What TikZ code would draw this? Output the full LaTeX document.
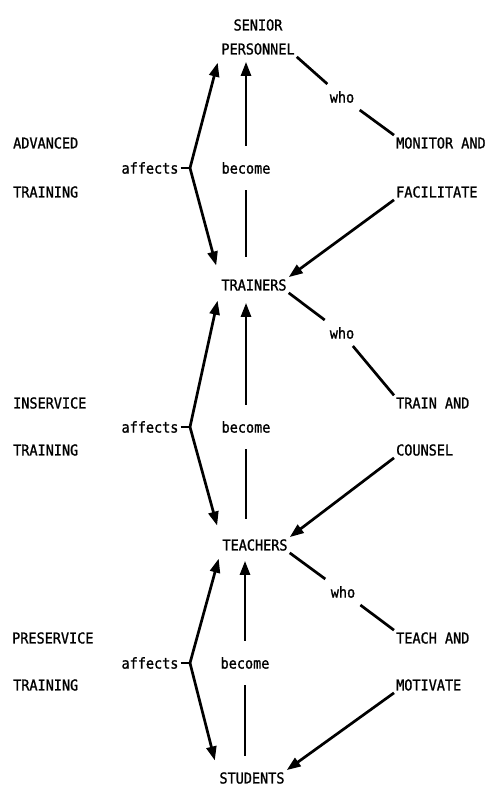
\documentclass[tikz,border=0pt]{standalone}
\usepackage{fontspec}
\newfontfamily\plotfont[FakeStretch=0.9,FakeBold=1.2]{DejaVu Sans Mono}
\usetikzlibrary{arrows.meta}
\begin{document}
\begin{tikzpicture}[x=1pt,y=-1pt,>={Triangle[length=14pt,width=10pt]},
  every node/.style={font={\plotfont\fontsize{15}{24}\selectfont},inner sep=2pt},
  lbl/.style={anchor=west},
  who/.style={inner sep=7pt},
  bec/.style={minimum height=44pt},
  ln/.style={line width=2.7pt}]
  \useasboundingbox (0,0) rectangle (486,786);
  % the four groups of people
  \node[align=center] (sp) at (258,37) {SENIOR\\PERSONNEL};
  \node (tr) at (254,285) {TRAINERS};
  \node (te) at (255,545) {TEACHERS};
  \node (st) at (252,778) {STUDENTS};
  % advanced training
  \node[lbl] (adv) at (11,143) {ADVANCED}; \node[lbl] (advt) at (11,192) {TRAINING};
  \node (af1) at (150,168) {affects}; \coordinate (br1) at (190,168);
  \node[bec] (bc1) at (246,168) {become};
  \node[who] (w1) at (342,97) {who};
  \node[lbl] (mon) at (394,143) {MONITOR AND}; \node[lbl] (fac) at (394,192) {FACILITATE};
  \draw[ln] (af1) -- (br1);
  \draw[ln,->,shorten >=6pt] (br1) -- (sp.south west);
  \draw[ln,->,shorten >=12pt] (br1) -- (tr.north west);
  \draw[ln,->,shorten >=5pt] (bc1) -- (bc1 |- sp.south);
  \draw[ln,shorten >=20pt] (bc1) -- (bc1 |- tr.north);
  \draw[ln] (sp.south east) -- (w1) -- (mon.north west);
  \draw[ln,->] (fac.south west) -- (tr.north east);
  % inservice training
  \node[lbl] (ins) at (11,403) {INSERVICE}; \node[lbl] (inst) at (11,450) {TRAINING};
  \node (af2) at (150,427) {affects}; \coordinate (br2) at (190,427);
  \node[bec] (bc2) at (246,427) {become};
  \node[who] (w2) at (342,333) {who};
  \node[lbl] (tra) at (394,403) {TRAIN AND}; \node[lbl] (cou) at (394,450) {COUNSEL};
  \draw[ln] (af2) -- (br2);
  \draw[ln,->,shorten >=8pt] (br2) -- (tr.south west);
  \draw[ln,->,shorten >=12pt] (br2) -- (te.north west);
  \draw[ln,->,shorten >=10pt] (bc2) -- (bc2 |- tr.south);
  \draw[ln,shorten >=18pt] (bc2) -- (bc2 |- te.north);
  \draw[ln] (tr.south east) -- (w2) -- (tra.north west);
  \draw[ln,->] (cou.south west) -- (te.north east);
  % preservice training
  \node[lbl] (pre) at (10,638) {PRESERVICE}; \node[lbl] (pret) at (11,685) {TRAINING};
  \node (af3) at (150,663) {affects}; \coordinate (br3) at (190,663);
  \node[bec] (bc3) at (245,663) {become};
  \node[who] (w3) at (343,592) {who};
  \node[lbl] (tea) at (394,638) {TEACH AND}; \node[lbl] (mot) at (394,685) {MOTIVATE};
  \draw[ln] (af3) -- (br3);
  \draw[ln,->,shorten >=6pt] (br3) -- (te.south west);
  \draw[ln,->,shorten >=10pt] (br3) -- (st.north west);
  \draw[ln,->,shorten >=8pt] (bc3) -- (bc3 |- te.south);
  \draw[ln,shorten >=14pt] (bc3) -- (bc3 |- st.north);
  \draw[ln] (te.south east) -- (w3) -- (tea.north west);
  \draw[ln,->] (mot.south west) -- (st.north east);
\end{tikzpicture}
\end{document}
